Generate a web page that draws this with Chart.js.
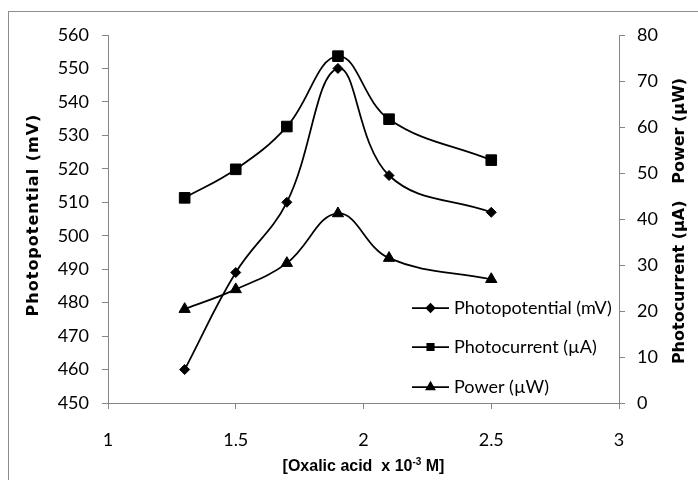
<!DOCTYPE html>
<html>
<head>
<meta charset="utf-8">
<script src="https://cdn.jsdelivr.net/npm/chart.js@4/dist/chart.umd.min.js"></script>
<style>
  html, body { margin: 0; padding: 0; background: #fff; }
</style>
</head>
<body>
<canvas id="chart" width="698" height="480"></canvas>
<script>
// data
const concentration = [1.3, 1.5, 1.7, 1.9, 2.1, 2.5];
const photopotential = [460, 489, 510, 550, 518, 507];
const photocurrent = [44.6, 50.8, 60.1, 75.4, 61.7, 52.8];
const power = [20.4, 24.7, 30.4, 41.2, 31.5, 26.9];

const seriesNames = ['Photopotential (mV)', 'Photocurrent (\u00b5A)', 'Power (\u00b5W)'];
const xTickLabels = ['1', '1.5', '2', '2.5', '3'];
const leftTitle = 'Photopotential (mV)';
const rightTitle = 'Photocurrent (\u00b5A)   Power (\u00b5W)';

const axisGrey = '#868686';
const tickFont = { family: 'Lato', size: 18 };

function points(ys) {
    return concentration.map((x, i) => ({ x: x, y: ys[i] }));
}

function series(label, ys, axis, style, radius) {
    return {
        label: label,
        data: points(ys),
        yAxisID: axis,
        borderColor: '#000',
        backgroundColor: '#000',
        borderWidth: 1.75,
        tension: 0.4,
        pointStyle: style,
        pointRadius: radius,
        pointBackgroundColor: '#000',
        pointBorderColor: '#000',
        pointBorderWidth: 1
    };
}

// outer frame, axis titles and the legend inside the plot
const decorations = {
    id: 'decorations',
    beforeDraw(chart) {
        const ctx = chart.ctx;
        ctx.save();
        ctx.strokeStyle = '#8c8c8c';
        ctx.lineWidth = 1;
        ctx.strokeRect(8.5, 11.5, 800, 600);
        ctx.restore();
    },
    afterDraw(chart) {
        const ctx = chart.ctx;
        const area = chart.chartArea;
        const midY = (area.top + area.bottom) / 2;

        ctx.save();
        ctx.fillStyle = '#000';
        ctx.textAlign = 'center';
        ctx.textBaseline = 'middle';

        // left title, bottom to top
        ctx.font = 'bold 16px "DejaVu Sans"';
        ctx.save();
        ctx.translate(34, midY - 4);
        ctx.rotate(-Math.PI / 2);
        ctx.letterSpacing = '1px';
        ctx.fillText(leftTitle, 0, 0);
        ctx.restore();

        // right title, also bottom to top
        ctx.save();
        ctx.translate(680, midY + 2);
        ctx.rotate(-Math.PI / 2);
        ctx.fillText(rightTitle, 0, 0);
        ctx.restore();

        // x title with superscript
        const cx = (area.left + area.right) / 2;
        const y = 467;
        const partA = '[Oxalic acid  x 10';
        const partB = '-3';
        const partC = ' M]';
        ctx.font = 'bold 16px "Liberation Sans"';
        const wA = ctx.measureText(partA).width;
        const wC = ctx.measureText(partC).width;
        ctx.font = 'bold 10px "Liberation Sans"';
        const wB = ctx.measureText(partB).width;
        let x = cx - (wA + wB + wC) / 2;
        ctx.textAlign = 'left';
        ctx.font = 'bold 16px "Liberation Sans"';
        ctx.fillText(partA, x, y);
        x += wA;
        ctx.font = 'bold 10px "Liberation Sans"';
        ctx.fillText(partB, x, y - 5);
        x += wB;
        ctx.font = 'bold 16px "Liberation Sans"';
        ctx.fillText(partC, x, y);

        // legend
        const rows = [308, 347, 387];
        const legendRadius = [4, 4.5, 4.5];
        ctx.font = '18px Lato';
        chart.data.datasets.forEach((ds, i) => {
            const ry = rows[i];
            ctx.strokeStyle = '#000';
            ctx.lineWidth = 1.75;
            ctx.beginPath();
            ctx.moveTo(412, ry);
            ctx.lineTo(449, ry);
            ctx.stroke();
            ctx.fillStyle = '#000';
            if (Chart.helpers && Chart.helpers.drawPoint) {
                Chart.helpers.drawPoint(ctx, {
                    pointStyle: ds.pointStyle,
                    radius: legendRadius[i],
                    rotation: 0,
                    borderWidth: 1
                }, 430.5, ry);
            }
            ctx.fillStyle = '#000';
            ctx.textAlign = 'left';
            ctx.fillText(ds.label, 454, ry);
        });
        ctx.restore();
    }
};

new Chart(document.getElementById('chart'), {
    type: 'line',
    data: {
        datasets: [
            series(seriesNames[0], photopotential, 'yLeft', 'rectRot', 5),
            series(seriesNames[1], photocurrent, 'yRight', 'rect', 7.5),
            series(seriesNames[2], power, 'yRight', 'triangle', 6.5)
        ]
    },
    options: {
        responsive: false,
        animation: false,
        devicePixelRatio: 1,
        layout: { padding: { top: 35, left: 0, right: 0, bottom: 0 } },
        plugins: {
            legend: { display: false },
            tooltip: { enabled: false }
        },
        scales: {
            x: {
                type: 'linear',
                min: 1,
                max: 3,
                ticks: {
                    stepSize: 0.5,
                    color: '#000',
                    font: tickFont,
                    padding: 20,
                    callback: (v, i) => xTickLabels[i]
                },
                grid: { drawOnChartArea: false, drawTicks: true, tickLength: 6, color: axisGrey },
                border: { color: axisGrey },
                afterFit: s => { s.height = 77; }
            },
            yLeft: {
                type: 'linear',
                position: 'left',
                min: 450,
                max: 560,
                ticks: { stepSize: 10, color: '#000', font: tickFont, padding: 13 },
                grid: { drawOnChartArea: false, drawTicks: true, tickLength: 6, color: axisGrey },
                border: { color: axisGrey },
                afterFit: s => { s.width = 108; }
            },
            yRight: {
                type: 'linear',
                position: 'right',
                min: 0,
                max: 80,
                ticks: { stepSize: 10, color: '#000', font: tickFont, padding: 12 },
                grid: { drawOnChartArea: false, drawTicks: true, tickLength: 6, color: axisGrey },
                border: { color: axisGrey },
                afterFit: s => { s.width = 79; }
            }
        }
    },
    plugins: [decorations]
});
</script>
</body>
</html>
